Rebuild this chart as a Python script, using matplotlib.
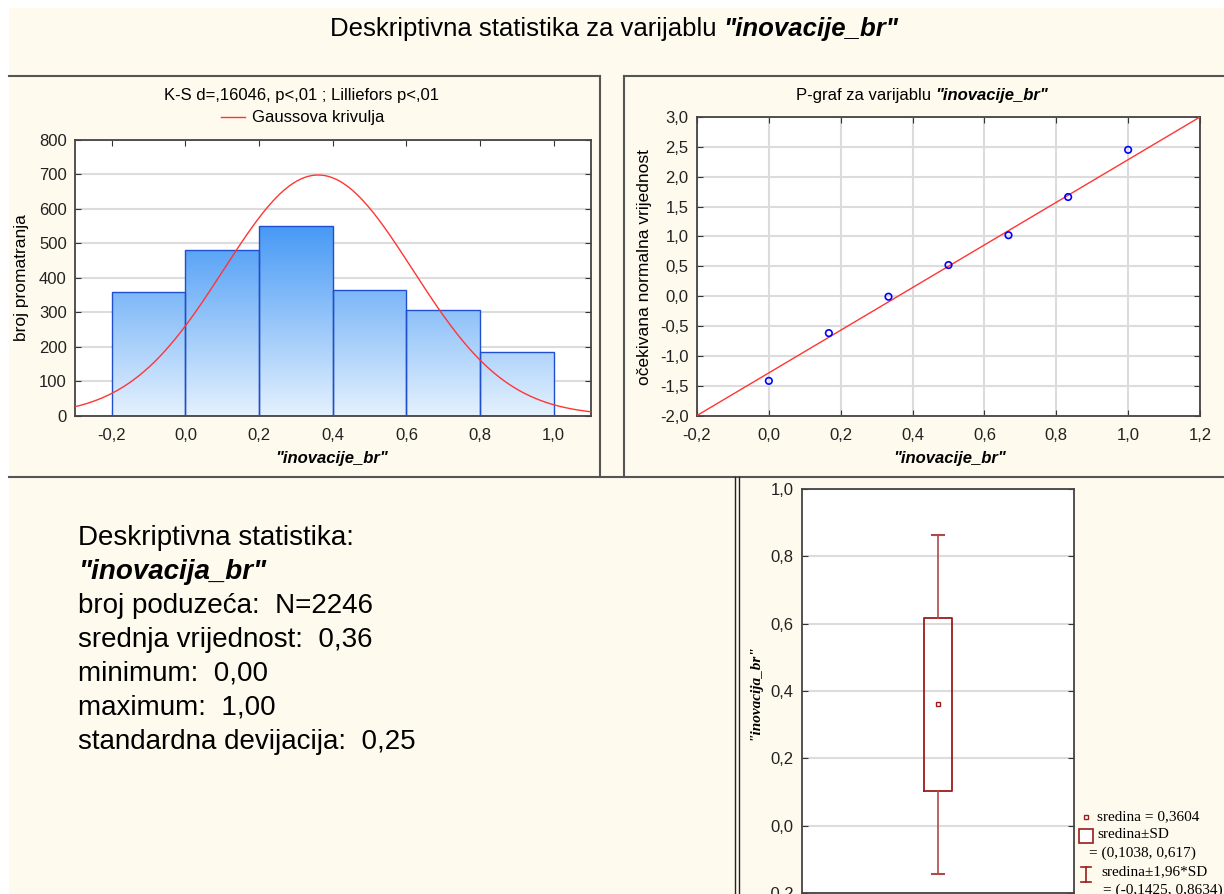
import numpy as np
import matplotlib
matplotlib.use('Agg')
import matplotlib.pyplot as plt
from matplotlib.lines import Line2D
from matplotlib.patches import Rectangle
from matplotlib.colors import LinearSegmentedColormap
from matplotlib.ticker import FuncFormatter

# histogram data
bin_edges = [-0.2, 0.0, 0.2, 0.4, 0.6, 0.8, 1.0]
counts = [360, 480, 550, 365, 305, 185]
n_obs = 2246
mean = 0.3604
sd_lo, sd_hi = 0.1038, 0.617
ci_lo, ci_hi = -0.1425, 0.8634

# P-graf data
p_x = [0.0, 0.167, 0.333, 0.5, 0.667, 0.833, 1.0]
p_y = [-1.42, -0.62, -0.01, 0.52, 1.02, 1.66, 2.45]
fit_x = [-0.2, 1.2]
fit_y = [-2.0, 3.0]

stat_lines = ['Deskriptivna statistika:', '"inovacija_br"', 'broj poduzeća:  N=2246',
              'srednja vrijednost:  0,36', 'minimum:  0,00', 'maximum:  1,00',
              'standardna devijacija:  0,25']

W, H = 1224, 894
BG = '#fffaee'
plt.rcParams['font.family'] = ['Liberation Sans', 'DejaVu Sans']
fig = plt.figure(figsize=(W / 100, H / 100), dpi=100, facecolor='white')


def fx(x):
    return x / W


def fy(y):
    return 1 - y / H


def rect(l, t, r, b):
    return [l / W, 1 - b / H, (r - l) / W, (b - t) / H]


def comma(fmt):
    def f(v, pos):
        if abs(v) < 1e-9:
            v = 0.0
        return fmt.format(v).replace('.', ',')
    return FuncFormatter(f)


def line(x0, y0, x1, y1, c='#555555', lw=1.5):
    fig.add_artist(Line2D([fx(x0), fx(x1)], [fy(y0), fy(y1)], color=c, lw=lw))


def mixed(xc, yb, parts, size):
    r = fig.canvas.get_renderer()
    ts = []
    for s, bold in parts:
        ts.append(fig.text(0, fy(yb), s, fontsize=size, va='baseline', ha='left',
                           fontweight='bold' if bold else 'normal',
                           fontstyle='italic' if bold else 'normal'))
    widths = [t.get_window_extent(r).width for t in ts]
    gap = size * 100 / 72 * 0.28
    x = xc - (sum(widths) + gap * (len(ts) - 1)) / 2
    for t, w in zip(ts, widths):
        t.set_x(fx(x))
        x += w + gap


# cream background with white margin at top and left
fig.add_artist(Rectangle((fx(9), 0), 1 - fx(9), fy(8), transform=fig.transFigure,
                         facecolor=BG, edgecolor='none', zorder=-10))

# frames
line(9, 75.5, 600, 75.5)
line(624, 75.5, W, 75.5)
line(600, 75.5, 600, 477)
line(624, 75.5, 624, 477)
line(9, 477, W, 477)
line(735, 477, 735, H, c='#222222', lw=1)
line(738.7, 477, 738.7, H, c='#222222', lw=1)

mixed(614, 36, [('Deskriptivna statistika za varijablu', False), ('"inovacije_br"', True)], 18.5)

# histogram
ax1 = fig.add_axes(rect(75, 140, 590.5, 415.5))
ax1.set_facecolor('white')
cmap = LinearSegmentedColormap.from_list('g', ['#e4f1fe', '#4397f5'])
grad = np.linspace(0, 1, 256).reshape(-1, 1)
bars = ax1.bar(bin_edges[:-1], counts, width=np.diff(bin_edges), align='edge',
               facecolor='none', edgecolor='#1f4fcc', lw=1, zorder=3)
for b in bars:
    im = ax1.imshow(grad, cmap=cmap, origin='lower', aspect='auto', zorder=2,
                    extent=[b.get_x(), b.get_x() + b.get_width(), 0, 560])
    im.set_clip_path(b)
xs = np.linspace(-0.3, 1.1, 300)
sd = (sd_hi - sd_lo) / 2
gauss = n_obs * 0.2 * np.exp(-0.5 * ((xs - mean) / sd) ** 2) / (sd * np.sqrt(2 * np.pi))
ax1.plot(xs, gauss, color='#ff3535', lw=1, zorder=4)
ax1.set_xlim(-0.3, 1.1)
ax1.set_ylim(0, 800)
ax1.set_xticks(bin_edges)
ax1.set_yticks(range(0, 801, 100))
ax1.xaxis.set_major_formatter(comma('{:.1f}'))
ax1.grid(axis='y', color='#dcdcdc', lw=1.5, zorder=1)
ax1.set_axisbelow(True)
fig.text(fx(302), fy(100), 'K-S d=,16046, p<,01 ; Lilliefors p<,01', fontsize=12,
         ha='center', va='baseline')
line(221, 117, 245, 117, c='#ff3535', lw=1)
fig.text(fx(252), fy(122), 'Gaussova krivulja', fontsize=12, ha='left', va='baseline')
fig.text(fx(22), fy(278), 'broj promatranja', fontsize=12.5, rotation=90, ha='center', va='center')
fig.text(fx(332), fy(463), '"inovacije_br"', fontsize=12, fontweight='bold', fontstyle='italic',
         ha='center', va='baseline')

# P-graf
ax2 = fig.add_axes(rect(697, 117, 1200, 415.5))
ax2.set_facecolor('white')
ax2.plot(fit_x, fit_y, color='#ff3535', lw=1, zorder=3)
ax2.scatter(p_x, p_y, s=22, facecolors='none', edgecolors='#0000ff', lw=1.2, zorder=4)
ax2.set_xlim(-0.2, 1.2)
ax2.set_ylim(-2.0, 3.0)
ax2.set_xticks(np.arange(-0.2, 1.21, 0.2))
ax2.set_yticks(np.arange(-2.0, 3.01, 0.5))
ax2.xaxis.set_major_formatter(comma('{:.1f}'))
ax2.yaxis.set_major_formatter(comma('{:.1f}'))
ax2.grid(color='#dcdcdc', lw=1.5, zorder=1)
ax2.set_axisbelow(True)
mixed(922, 100, [('P-graf za varijablu', False), ('"inovacije_br"', True)], 12)
fig.text(fx(645), fy(267), 'očekivana normalna vrijednost', fontsize=12.5, rotation=90,
         ha='center', va='center')
fig.text(fx(950), fy(463), '"inovacije_br"', fontsize=12, fontweight='bold', fontstyle='italic',
         ha='center', va='baseline')

# box plot
ax3 = fig.add_axes(rect(802, 489, 1074, 893))
ax3.set_facecolor('white')
boxc, whc = '#9b1c1c', '#b04a4a'
ax3.bxp([{'med': mean, 'q1': sd_lo, 'q3': sd_hi, 'whislo': ci_lo, 'whishi': ci_hi,
          'mean': mean, 'fliers': []}],
        positions=[1], widths=0.2, capwidths=0.09, showmeans=True, showfliers=False,
        boxprops=dict(color=boxc, lw=1.3),
        whiskerprops=dict(color=whc, lw=1.2), capprops=dict(color=whc, lw=1.5),
        medianprops=dict(lw=0),
        meanprops=dict(marker='s', markersize=3.5, markerfacecolor='white',
                       markeredgecolor=boxc, markeredgewidth=1))
ax3.set_xlim(0, 2)
ax3.set_ylim(-0.2, 1.0)
ax3.set_xticks([])
ax3.set_yticks(np.arange(-0.2, 1.01, 0.2))
ax3.yaxis.set_major_formatter(comma('{:.1f}'))
ax3.grid(axis='y', color='#dcdcdc', lw=1.5, zorder=0)
ax3.set_axisbelow(True)
fig.text(fx(755), fy(692), '"inovacija_br"', fontsize=11, family='Liberation Serif',
         fontweight='bold', fontstyle='italic', rotation=90, ha='center', va='center')

# box legend
fig.add_artist(Line2D([fx(1086)], [fy(817)], marker='s', markersize=3.5, mfc='white',
                      mec=boxc, mew=1))
fig.add_artist(Line2D([fx(1086)], [fy(836)], marker='s', markersize=10, mfc='white',
                      mec=boxc, mew=1.2))
line(1086, 867, 1086, 882, c=boxc, lw=1.2)
line(1081, 867, 1091, 867, c=boxc, lw=1.2)
line(1081, 882, 1091, 882, c=boxc, lw=1.2)
leg = [(1097, 817, 'sredina = 0,3604'), (1097, 835, 'sredina±SD'),
       (1089, 853, '= (0,1038, 0,617)'), (1101, 872, 'sredina±1,96*SD'),
       (1103, 890, '= (-0,1425, 0,8634)')]
for x, y, s in leg:
    fig.text(fx(x), fy(y), s, fontsize=11, family='Liberation Serif', ha='left', va='center')

for ax in (ax1, ax2, ax3):
    ax.tick_params(direction='in', length=4, top=True, right=True, labelsize=12,
                   colors='#333333', labelcolor='#222222', pad=6)
    ax.tick_params(axis='x', pad=9)
    for sp in ax.spines.values():
        sp.set_color('#444444')
        sp.set_linewidth(1.3)
ax3.tick_params(bottom=False, top=False)

# stats text
fig.text(fx(78), fy(545), stat_lines[0], fontsize=20, va='baseline')
fig.text(fx(78), fy(579), stat_lines[1], fontsize=20, va='baseline', fontweight='bold',
         fontstyle='italic')
for i, s in enumerate(stat_lines[2:]):
    fig.text(fx(78), fy(613 + 34 * i), s, fontsize=20, va='baseline')

fig.savefig('out.png', dpi=100, facecolor='white')
